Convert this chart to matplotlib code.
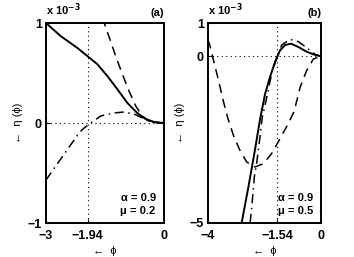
import numpy as np
import matplotlib.pyplot as plt

plt.rcParams['font.family'] = ['Liberation Sans', 'DejaVu Sans']

# panel (a): alpha=0.9, mu=0.2   (eta in units of 1e-3)
xa_solid = [-3.0, -2.63, -2.20, -1.95, -1.70, -1.44, -1.19, -0.93, -0.68, -0.47, -0.25, 0.0]
ya_solid = [1.0, 0.87, 0.75, 0.67, 0.59, 0.47, 0.34, 0.20, 0.10, 0.04, 0.01, 0.0]
xa_dash = [-1.58, -1.52, -1.36, -1.23, -1.06, -0.89, -0.72, -0.55, -0.38, -0.21, 0.0]
ya_dash = [1.05, 1.0, 0.82, 0.67, 0.49, 0.32, 0.17, 0.07, 0.02, 0.0, 0.0]
xa_dd = [-3.0, -2.5, -2.14, -2.03, -1.86, -1.61, -1.27, -1.02, -0.76, -0.55, -0.34, 0.0]
ya_dd = [-0.57, -0.29, -0.09, -0.05, 0.0, 0.07, 0.10, 0.11, 0.09, 0.05, 0.01, 0.0]

# panel (b): alpha=0.9, mu=0.5
xb_solid = [-2.81, -2.57, -2.34, -2.16, -1.98, -1.81, -1.63, -1.45, -1.27, -1.06, -0.80,
            -0.51, -0.27, 0.0]
yb_solid = [-5.0, -3.92, -2.82, -1.90, -1.13, -0.63, -0.18, 0.18, 0.34, 0.38, 0.28,
            0.14, 0.06, 0.0]
xb_dash = [-4.0, -3.93, -3.64, -3.46, -3.30, -3.10, -2.87, -2.63, -2.34, -2.04, -1.75,
           -1.45, -1.16, -0.95, -0.74, -0.51, -0.27, 0.0]
yb_dash = [0.50, 0.31, -0.68, -1.33, -1.85, -2.37, -2.82, -3.17, -3.32, -3.22, -2.92,
           -2.47, -2.02, -1.65, -0.93, -0.43, -0.08, 0.0]
xb_dd = [-2.51, -2.45, -2.36, -2.28, -2.16, -2.08, -1.92, -1.75, -1.57, -1.39, -1.10,
         -0.80, -0.51, -0.21, 0.0]
yb_dd = [-5.0, -4.51, -3.62, -3.22, -2.42, -1.83, -1.23, -0.53, -0.04, 0.34, 0.51,
         0.44, 0.26, 0.06, 0.0]

fig = plt.figure(figsize=(3.54, 2.57), dpi=100)
W, H = 354, 257
ax1 = fig.add_axes([46 / W, 34 / H, 118 / W, 200 / H])
ax2 = fig.add_axes([208 / W, 34 / H, 113 / W, 200 / H])

panels = [
    (ax1, xa_solid, ya_solid, xa_dash, ya_dash, xa_dd, ya_dd, (-3, 0), (-1, 1),
     [-3, -1.94, 0], [-1, 0, 1], -1.94, '(a)', '0.2'),
    (ax2, xb_solid, yb_solid, xb_dash, yb_dash, xb_dd, yb_dd, (-4, 0), (-5, 1),
     [-4, -1.54, 0], [-5, 0, 1], -1.54, '(b)', '0.5'),
]

for ax, xs, ys, xd, yd, xdd, ydd, xl, yl, xt, yt, xv, tag, mu in panels:
    ax.plot([xv, xv], yl, color='k', ls=(0, (1, 3)), lw=0.8)
    ax.plot(xl, [0, 0], color='k', ls=(0, (1, 3)), lw=0.8)
    ax.plot(xs, ys, color='k', lw=1.4, solid_joinstyle='round')
    ax.plot(xd, yd, color='k', lw=1.1, ls=(0, (6, 4)))
    ax.plot(xdd, ydd, color='k', lw=1.1, ls=(0, (6, 3, 1, 3)))
    ax.set_xlim(xl)
    ax.set_ylim(yl)
    ax.set_xticks(xt)
    ax.set_xticklabels(['\u2212' + str(abs(v)) if v < 0 else str(v) for v in xt])
    ax.set_yticks(yt)
    ax.set_yticklabels(['\u2212' + str(abs(v)) if v < 0 else str(v) for v in yt])
    ax.tick_params(direction='in', length=3, width=0.8, labelsize=9)
    ax.tick_params(axis='x', pad=5)
    ax.tick_params(axis='y', pad=3)
    for lab in ax.get_xticklabels() + ax.get_yticklabels():
        lab.set_fontweight('bold')
    for s in ax.spines.values():
        s.set_linewidth(1.4)
    ax.text(0.0, 1.025, r'x 10$^{\mathbf{-3}}$', transform=ax.transAxes, fontsize=8,
            fontweight='bold', ha='left', va='bottom')
    ax.text(1.0, 1.025, tag, transform=ax.transAxes, fontsize=8,
            fontweight='bold', ha='right', va='bottom')
    ax.text(0.93, 0.125, '\u03b1 = 0.9', transform=ax.transAxes, fontsize=8,
            fontweight='bold', ha='right', va='center')
    ax.text(0.93, 0.06, '\u03bc = ' + mu, transform=ax.transAxes, fontsize=8,
            fontweight='bold', ha='right', va='center')
    ax.set_xlabel('\u2190  \u03d5', fontsize=8, labelpad=3)
    ax.set_ylabel('\u2190  \u03b7 (\u03d5)', fontsize=8, labelpad=3)

fig.savefig('out.png', dpi=100)
